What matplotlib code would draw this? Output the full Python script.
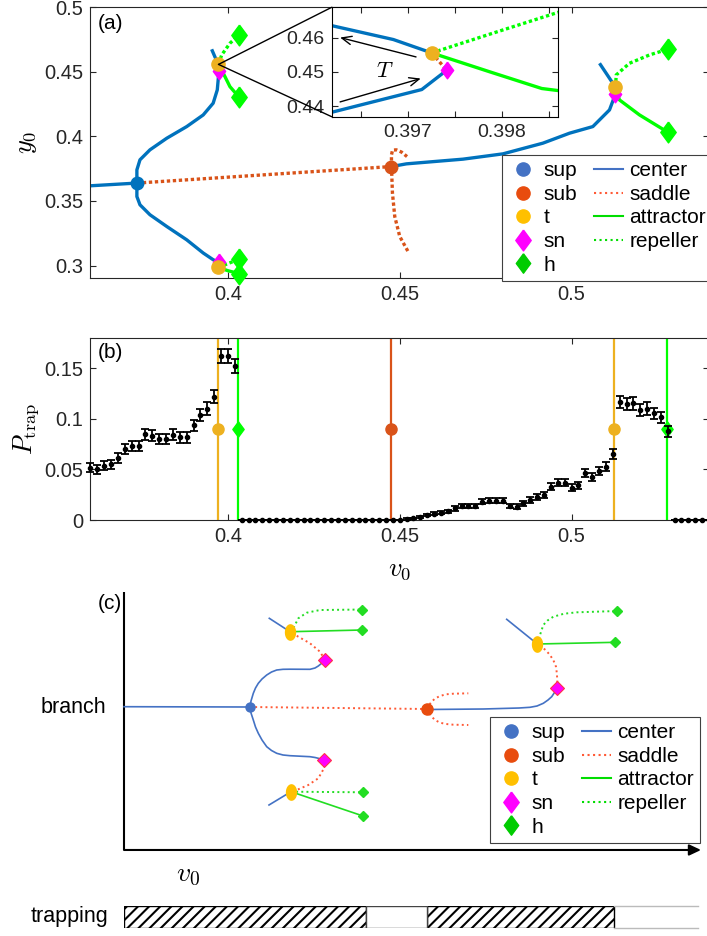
import numpy as np
import matplotlib
matplotlib.use('Agg')
import matplotlib.pyplot as plt
from matplotlib.lines import Line2D
from matplotlib.patches import ConnectionPatch

plt.rcParams['font.family'] = ['Liberation Sans', 'DejaVu Sans']
plt.rcParams['mathtext.fontset'] = 'cm'
plt.rcParams['font.size'] = 14.5
plt.rcParams['axes.linewidth'] = 0.8
plt.rcParams['axes.edgecolor'] = '#262626'
plt.rcParams['xtick.color'] = '#262626'
plt.rcParams['ytick.color'] = '#262626'
plt.rcParams['xtick.direction'] = 'in'
plt.rcParams['ytick.direction'] = 'in'
plt.rcParams['xtick.top'] = True
plt.rcParams['ytick.right'] = True
plt.rcParams['xtick.major.size'] = 4.5
plt.rcParams['ytick.major.size'] = 4.5
plt.rcParams['hatch.linewidth'] = 1.5

# ---------------- panel (a): bifurcation diagram ----------------
center_left_v = [0.36, 0.3735]
center_left_y = [0.3617, 0.3638]
sup_v, sup_y = 0.3735, 0.3638

upper_branch_v = [0.3735, 0.3735, 0.3744, 0.3773, 0.3822, 0.3880, 0.3928, 0.3957, 0.3969, 0.3972, 0.3974]
upper_branch_y = [0.3638, 0.3740, 0.3818, 0.3895, 0.3985, 0.4075, 0.4165, 0.4256, 0.4359, 0.4449, 0.4505]
upper_top_v = [0.39725, 0.39622, 0.39526]
upper_top_y = [0.4556, 0.4614, 0.4673]
upper_t = (0.39725, 0.4556)
upper_sn = (0.39741, 0.4505)
upper_rep_v = [0.39725, 0.39818, 0.40058, 0.40311]
upper_rep_y = [0.4556, 0.46291, 0.47195, 0.47813]
upper_att_v = [0.39725, 0.39817, 0.40058, 0.40311]
upper_att_y = [0.4556, 0.45131, 0.43841, 0.43068]

lower_branch_v = [0.3735, 0.3735, 0.3744, 0.3773, 0.3822, 0.3880, 0.3928, 0.3957, 0.3973]
lower_branch_y = [0.3638, 0.3534, 0.3470, 0.3393, 0.3302, 0.3199, 0.3097, 0.3045, 0.3025]
lower_bottom_v = [0.3972, 0.3957]
lower_bottom_y = [0.2985, 0.2962]
lower_t = (0.3972, 0.2985)
lower_sn = (0.3973, 0.3025)
lower_rep_v = [0.3972, 0.4000, 0.4033]
lower_rep_y = [0.2985, 0.3015, 0.3050]
lower_att_v = [0.3972, 0.4000, 0.4033]
lower_att_y = [0.2985, 0.2960, 0.2937]

saddle_v = [0.3735, 0.44759]
saddle_y = [0.3638, 0.37658]
sub_v, sub_y = 0.44759, 0.37658
sub_up_v = [0.44759, 0.44759, 0.44790, 0.44904, 0.45050, 0.45212]
sub_up_y = [0.37658, 0.3855, 0.3893, 0.3895, 0.3878, 0.3843]
sub_down_v = [0.44759, 0.44788, 0.44855, 0.45000, 0.45241]
sub_down_y = [0.37658, 0.35602, 0.33795, 0.32249, 0.3109]

right_branch_v = [0.44759, 0.45195, 0.4684, 0.48003, 0.49166, 0.49942, 0.5062, 0.51105, 0.5125, 0.51279]
right_branch_y = [0.37658, 0.37867, 0.3823, 0.3864, 0.39467, 0.4024, 0.4075, 0.4204, 0.4307, 0.43277]
right_top_v = [0.51279, 0.51008, 0.50814]
right_top_y = [0.43794, 0.44876, 0.45649]
right_t = (0.51279, 0.43794)
right_sn = (0.51279, 0.43277)
right_rep_v = [0.51279, 0.5130, 0.51686, 0.52267, 0.528]
right_rep_y = [0.43794, 0.44745, 0.45649, 0.46291, 0.46731]
right_att_v = [0.51279, 0.51395, 0.51977, 0.528]
right_att_y = [0.43794, 0.42813, 0.41654, 0.40317]

h_v = [0.40311, 0.40311, 0.4033, 0.4033, 0.528, 0.528]
h_y = [0.47813, 0.43068, 0.3050, 0.2937, 0.46731, 0.40317]

# inset (zoom near the upper turning point)
ins_upper_v = [0.39610, 0.396847, 0.397255]
ins_upper_y = [0.4641, 0.45947, 0.45556]
ins_lower_v = [0.39610, 0.397149, 0.397415]
ins_lower_y = [0.43757, 0.44485, 0.4505]
ins_att_v = [0.397255, 0.397876, 0.398426, 0.398700]
ins_att_y = [0.45556, 0.4500, 0.44515, 0.44420]
ins_rep_v = [0.397255, 0.397947, 0.398700]
ins_rep_y = [0.45556, 0.4617, 0.46830]
ins_t = (0.397255, 0.45556)
ins_sn = (0.397415, 0.4505)

# ---------------- panel (b): trapping probability ----------------
v_trap = np.linspace(0.36, 0.54, 91)
p_trap = [0.0516, 0.0500, 0.0536, 0.0552, 0.0611, 0.0700, 0.0730, 0.0733, 0.0845, 0.0832,
          0.0802, 0.0799, 0.0841, 0.0815, 0.0815, 0.0934, 0.1039, 0.1101, 0.1216, 0.1620,
          0.1620, 0.1519,
          0, 0, 0, 0, 0, 0, 0, 0, 0, 0, 0, 0, 0, 0, 0, 0, 0, 0, 0, 0, 0, 0, 0, 0,
          0.0010, 0.0017, 0.0033, 0.0049, 0.0062, 0.0072, 0.0086, 0.0115, 0.0138, 0.0138,
          0.0138, 0.0181, 0.0191, 0.0191, 0.0191, 0.0138, 0.0132, 0.0164, 0.0197, 0.0230,
          0.0247, 0.0329, 0.0368, 0.0368, 0.0319, 0.0345, 0.0460, 0.0427, 0.0486, 0.0526,
          0.0651, 0.1167, 0.1144, 0.1151, 0.1085, 0.1101, 0.1052, 0.1013, 0.0878,
          0, 0, 0, 0, 0, 0]
p_err = [0.0043, 0.0042, 0.0043, 0.0044, 0.0046, 0.0049, 0.0050, 0.0050, 0.0054, 0.0053,
         0.0052, 0.0052, 0.0053, 0.0053, 0.0053, 0.0056, 0.0059, 0.0060, 0.0063, 0.0071,
         0.0071, 0.0069,
         0, 0, 0, 0, 0, 0, 0, 0, 0, 0, 0, 0, 0, 0, 0, 0, 0, 0, 0, 0, 0, 0, 0, 0,
         0.0006, 0.0008, 0.0011, 0.0013, 0.0015, 0.0016, 0.0018, 0.0021, 0.0022, 0.0022,
         0.0022, 0.0026, 0.0026, 0.0026, 0.0026, 0.0022, 0.0022, 0.0024, 0.0027, 0.0029,
         0.0030, 0.0034, 0.0036, 0.0036, 0.0034, 0.0035, 0.0040, 0.0039, 0.0041, 0.0043,
         0.0047, 0.0062, 0.0061, 0.0061, 0.0060, 0.0060, 0.0059, 0.0058, 0.0054,
         0, 0, 0, 0, 0, 0]
bif_v = [0.3972, 0.4028, 0.4476, 0.5123, 0.5278]
bif_kind = ['t', 'h', 'sub', 't', 'h']
bif_mark_y = 0.09

# ---------------- panel (c): schematic (arbitrary units) ----------------
sch_center_x = [0, 126]
sch_center_y = [143.3, 143]
sch_sup = (126, 143)
sch_sub = (303.3, 141)
sch_up_x = [126, 127, 129.3, 131.5, 134.3, 138, 142.7, 147.5, 152.7, 159, 166, 186, 191, 194.3, 198, 201]
sch_up_y = [143, 149, 156.7, 162, 166.7, 171, 175, 178, 180, 180.7, 180.8, 180.7, 182, 184, 187, 190]
sch_lo_x = [126, 127, 129.3, 131.5, 134.3, 138, 142.7, 147.5, 152.7, 159, 166, 186, 191, 194.3, 198, 200]
sch_lo_y = [143, 137, 130, 123, 116.7, 110, 103.3, 99.5, 96.7, 95, 94.3, 93.3, 92.5, 91.7, 90.5, 90]
sch_up_sad_x = [201, 196, 186, 174.3, 166]
sch_up_sad_y = [190, 198.3, 206.7, 213.3, 218.3]
sch_up_cen_x = [145.3, 166]
sch_up_cen_y = [231.7, 218.3]
sch_up_att_x = [166, 237.7]
sch_up_att_y = [218.3, 220]
sch_up_rep_x = [166, 169.3, 174.3, 182.7, 196, 237.7]
sch_up_rep_y = [218.3, 221.7, 231.7, 237.3, 240, 240.5]
sch_lo_sad_x = [200, 200, 194.3, 184.3, 174.3, 167]
sch_lo_sad_y = [90, 81.7, 71.7, 65, 60.7, 58.3]
sch_lo_cen_x = [145, 167]
sch_lo_cen_y = [45, 58.3]
sch_lo_rep_x = [167, 239]
sch_lo_rep_y = [58.3, 57.7]
sch_lo_att_x = [167, 239]
sch_lo_att_y = [58.3, 34]
sch_saddle_x = [126, 303.3]
sch_saddle_y = [143, 141]
sch_hook_up_x = [303.3, 305, 307.7, 311, 316, 322, 329.3, 344.3]
sch_hook_up_y = [141, 145, 148.3, 151.5, 154, 155.7, 156.3, 156.7]
sch_hook_lo_x = [303.3, 305, 307.7, 311, 316, 322, 329.3, 344.3]
sch_hook_lo_y = [141, 137, 133.3, 130, 127.3, 126, 125.3, 125]
sch_right_x = [303.3, 359.3, 395, 406, 413, 419.3, 424, 427.7, 430.5, 433.3]
sch_right_y = [140.5, 141, 142, 142.7, 144, 146.7, 150, 153.3, 157.5, 162.3]
sch_r_sad_x = [433.3, 433.3, 432.8, 432, 429.5, 426, 422, 417.7, 413.3]
sch_r_sad_y = [162.3, 170, 177, 183.3, 189.5, 195, 199.5, 203.3, 206]
sch_r_cen_x = [382.7, 413.3]
sch_r_cen_y = [230.7, 206]
sch_r_att_x = [413.3, 491]
sch_r_att_y = [206, 207.7]
sch_r_rep_x = [413.3, 416, 419.3, 423.5, 429.3, 440, 452.7, 492.7]
sch_r_rep_y = [206, 215, 225, 229.5, 233.3, 236.3, 237.7, 239]
sch_t_x = [166, 167, 413.3]
sch_t_y = [218.3, 58.3, 206]
sch_sn_x = [201, 200, 433.3]
sch_sn_y = [190, 90, 162.3]
sch_h_x = [237.7, 237.7, 239, 239, 492.7, 491]
sch_h_y = [240.5, 220, 57.7, 34, 239, 207.7]
trap_left = [0, 302.7]
trap_width = [241.7, 187.3]
gap_left, gap_width = 241.7, 61
tail_start, tail_end = 490, 574

# colours
BLUE, RED, ORANGE, MAG, GREEN = '#0072BD', '#D95319', '#EDB120', '#FF00FF', '#00FF00'
S_BLUE, S_RED, S_SUB, S_T, S_GREEN = '#4472C4', '#FF5A36', '#E84C0E', '#FFC000', '#22DD22'

TALL_D = [(0, 1), (0.74, 0), (0, -1), (-0.74, 0), (0, 1)]
theta = np.linspace(0, 2 * np.pi, 41)
ELLIPSE = list(zip(0.65 * np.cos(theta), np.sin(theta)))
DOT = (0, (1.0, 0.8))
LW = 2.4

fig = plt.figure(figsize=(7.07, 9.36), dpi=100)


def branch_legend(ax, anchor, transform):
    handles = [
        Line2D([], [], ls='none', marker='o', ms=9.5, color=S_BLUE),
        Line2D([], [], ls='none', marker='o', ms=9.5, color=S_SUB),
        Line2D([], [], ls='none', marker='o', ms=9.5, color=S_T),
        Line2D([], [], ls='none', marker=TALL_D, ms=15, color=MAG),
        Line2D([], [], ls='none', marker=TALL_D, ms=14, color='#00CC00'),
        Line2D([], [], color=S_BLUE, lw=1.5),
        Line2D([], [], color=S_RED, lw=1.5, ls=':'),
        Line2D([], [], color='#00DD00', lw=1.5),
        Line2D([], [], color='#00DD00', lw=1.5, ls=':'),
    ]
    labels = ['sup', 'sub', 't', 'sn', 'h', 'center', 'saddle', 'attractor', 'repeller']
    leg = ax.legend(handles, labels, ncol=2, loc='upper left', bbox_to_anchor=anchor,
                    bbox_transform=transform, fontsize=15, frameon=True, fancybox=False,
                    edgecolor='#404040', framealpha=1, borderpad=0.3, labelspacing=0.22,
                    handlelength=1.4, handletextpad=0.3, columnspacing=0.8, borderaxespad=0)
    leg.get_frame().set_linewidth(0.8)
    leg.set_zorder(10)
    return leg


# ---- (a) ----
ax_a = fig.add_axes([0.128, 0.7025, 0.8748, 0.29])
for vv, yy in [(center_left_v, center_left_y), (upper_branch_v, upper_branch_y),
               (upper_top_v, upper_top_y), (lower_branch_v, lower_branch_y),
               (lower_bottom_v, lower_bottom_y), (right_branch_v, right_branch_y),
               (right_top_v, right_top_y)]:
    ax_a.plot(vv, yy, color=BLUE, lw=LW, solid_capstyle='butt')
for vv, yy in [(saddle_v, saddle_y), (sub_up_v, sub_up_y), (sub_down_v, sub_down_y),
               ([upper_t[0], upper_sn[0]], [upper_t[1], upper_sn[1]]),
               ([lower_t[0], lower_sn[0]], [lower_t[1], lower_sn[1]]),
               ([right_t[0], right_sn[0]], [right_t[1], right_sn[1]])]:
    ax_a.plot(vv, yy, color=RED, lw=LW, ls=DOT)
for vv, yy in [(upper_att_v, upper_att_y), (lower_att_v, lower_att_y), (right_att_v, right_att_y)]:
    ax_a.plot(vv, yy, color=GREEN, lw=LW)
for vv, yy in [(upper_rep_v, upper_rep_y), (lower_rep_v, lower_rep_y), (right_rep_v, right_rep_y)]:
    ax_a.plot(vv, yy, color=GREEN, lw=LW, ls=DOT)
ax_a.plot(h_v, h_y, ls='none', marker=TALL_D, ms=15, color=GREEN, zorder=4, clip_on=False)
ax_a.plot([upper_sn[0], lower_sn[0], right_sn[0]], [upper_sn[1], lower_sn[1], right_sn[1]],
          ls='none', marker=TALL_D, ms=12, color=MAG, zorder=4)
ax_a.plot([upper_t[0], lower_t[0], right_t[0]], [upper_t[1], lower_t[1], right_t[1]],
          ls='none', marker='o', ms=9.5, color=ORANGE, zorder=5, clip_on=False)
ax_a.plot([sup_v], [sup_y], ls='none', marker='o', ms=9, color=BLUE, zorder=5)
ax_a.plot([sub_v], [sub_y], ls='none', marker='o', ms=9, color=RED, zorder=5)
ax_a.set_xlim(0.36, 0.54)
ax_a.set_ylim(0.29, 0.5)
ax_a.set_xticks([0.4, 0.45, 0.5])
ax_a.set_xticklabels(['0.4', '0.45', '0.5'])
ax_a.set_yticks([0.3, 0.35, 0.4, 0.45, 0.5])
ax_a.set_yticklabels(['0.3', '0.35', '0.4', '0.45', '0.5'])
ax_a.tick_params(axis='both', labelsize=14.5, pad=5, labelcolor='#262626')
ax_a.set_ylabel('$y_0$', fontsize=19, va='center')
ax_a.yaxis.set_label_coords(-0.103, 0.5)
ax_a.text(0.012, 0.94, '(a)', transform=ax_a.transAxes, fontsize=15, va='center')
branch_legend(ax_a, (0.6653, 0.4549), ax_a.transAxes)

# inset
axin = fig.add_axes([0.4692, 0.8753, 0.3205, 0.1169])
axin.plot(ins_upper_v, ins_upper_y, color=BLUE, lw=LW)
axin.plot(ins_lower_v, ins_lower_y, color=BLUE, lw=LW)
axin.plot(ins_att_v, ins_att_y, color=GREEN, lw=LW)
axin.plot(ins_rep_v, ins_rep_y, color=GREEN, lw=LW, ls=DOT)
axin.plot([ins_t[0], ins_sn[0]], [ins_t[1], ins_sn[1]], color=RED, lw=LW, ls=DOT)
axin.plot([ins_sn[0]], [ins_sn[1]], ls='none', marker=TALL_D, ms=12, color=MAG, zorder=4)
axin.plot([ins_t[0]], [ins_t[1]], ls='none', marker='o', ms=9.5, color=ORANGE, zorder=5)
axin.annotate('', xy=(0.396280, 0.460058), xytext=(0.397088, 0.454386),
              arrowprops=dict(arrowstyle='->,head_length=0.7,head_width=0.3', color='k', lw=1,
                              shrinkA=0, shrinkB=0, mutation_scale=10))
axin.annotate('', xy=(0.397138, 0.448070), xytext=(0.396280, 0.441228),
              arrowprops=dict(arrowstyle='->,head_length=0.7,head_width=0.3', color='k', lw=1,
                              shrinkA=0, shrinkB=0, mutation_scale=10))
axin.text(0.396759, 0.4500, '$T$', fontsize=16, ha='center', va='center')
axin.set_xlim(0.396191, 0.398602)
axin.set_ylim(0.4369, 0.4689)
axin.set_xticks([0.3965, 0.397, 0.3975, 0.398, 0.3985])
axin.set_xticklabels(['', '0.397', '', '0.398', ''])
axin.set_yticks([0.44, 0.45, 0.46])
axin.set_yticklabels(['0.44', '0.45', '0.46'])
axin.tick_params(axis='both', labelsize=14, pad=5, length=4, labelcolor='#262626')
for s in axin.spines.values():
    s.set_color('k')
for corner in [(0, 1), (0, 0)]:
    con = ConnectionPatch(xyA=corner, coordsA=axin.transAxes, xyB=upper_t, coordsB=ax_a.transData,
                          color='k', lw=1)
    fig.add_artist(con)

# ---- (b) ----
ax_b = fig.add_axes([0.128, 0.4444, 0.8748, 0.1948])
kind_style = {'t': (ORANGE, 'o', 8), 'h': (GREEN, TALL_D, 11), 'sub': (RED, 'o', 8)}
for vb, kb in zip(bif_v, bif_kind):
    col, mk, ms = kind_style[kb]
    ax_b.axvline(vb, color=col, lw=1.6, zorder=1)
    ax_b.plot([vb], [bif_mark_y], ls='none', marker=mk, ms=ms, color=col, zorder=2)
ax_b.errorbar(v_trap, p_trap, yerr=p_err, fmt='o', color='k', ms=3, capsize=3,
              elinewidth=1.3, capthick=1.3, zorder=3, clip_on=False)
ax_b.set_xlim(0.36, 0.54)
ax_b.set_ylim(0, 0.18)
ax_b.set_xticks([0.4, 0.45, 0.5])
ax_b.set_xticklabels(['0.4', '0.45', '0.5'])
ax_b.set_yticks([0, 0.05, 0.1, 0.15])
ax_b.set_yticklabels(['0', '0.05', '0.1', '0.15'])
ax_b.tick_params(axis='both', labelsize=14.5, pad=5, labelcolor='#262626')
ax_b.set_ylabel('$P_{\\mathrm{trap}}$', fontsize=19, va='center')
ax_b.yaxis.set_label_coords(-0.104, 0.5)
ax_b.set_xlabel('$v_0$', fontsize=19, va='center')
ax_b.xaxis.set_label_coords(0.5, -0.275)
ax_b.text(0.012, 0.92, '(b)', transform=ax_b.transAxes, fontsize=15, va='center')

# ---- (c) ----
ax_c = fig.add_axes([0.1754, 0.0919, 0.8246, 0.2756])
ax_c.set_xlim(0, 583)
ax_c.set_ylim(0, 258)
ax_c.axis('off')
ax_c.plot([0, 0], [0, 258], color='k', lw=1.5, solid_capstyle='butt', clip_on=False)
ax_c.annotate('', xy=(577, 0), xytext=(0, 0), annotation_clip=False,
              arrowprops=dict(arrowstyle='-|>,head_length=0.7,head_width=0.33', color='k', lw=1.5,
                              shrinkA=0, shrinkB=0, mutation_scale=10))
slw = 1.2
for xx, yy in [(sch_center_x, sch_center_y), (sch_up_x, sch_up_y), (sch_lo_x, sch_lo_y),
               (sch_up_cen_x, sch_up_cen_y), (sch_lo_cen_x, sch_lo_cen_y),
               (sch_right_x, sch_right_y), (sch_r_cen_x, sch_r_cen_y)]:
    ax_c.plot(xx, yy, color=S_BLUE, lw=slw, clip_on=False)
for xx, yy in [(sch_saddle_x, sch_saddle_y), (sch_hook_up_x, sch_hook_up_y),
               (sch_hook_lo_x, sch_hook_lo_y), (sch_up_sad_x, sch_up_sad_y),
               (sch_lo_sad_x, sch_lo_sad_y), (sch_r_sad_x, sch_r_sad_y)]:
    ax_c.plot(xx, yy, color=S_RED, lw=1.4, ls=':', clip_on=False)
for xx, yy in [(sch_up_att_x, sch_up_att_y), (sch_lo_att_x, sch_lo_att_y), (sch_r_att_x, sch_r_att_y)]:
    ax_c.plot(xx, yy, color=S_GREEN, lw=slw, clip_on=False)
for xx, yy in [(sch_up_rep_x, sch_up_rep_y), (sch_lo_rep_x, sch_lo_rep_y), (sch_r_rep_x, sch_r_rep_y)]:
    ax_c.plot(xx, yy, color=S_GREEN, lw=1.4, ls=':', clip_on=False)
ax_c.plot(sch_h_x, sch_h_y, ls='none', marker='D', ms=5.5, color=S_GREEN, zorder=4, clip_on=False)
ax_c.plot(sch_sn_x, sch_sn_y, ls='none', marker='D', ms=7.5, mfc=MAG, mec='#FF3344', mew=0.8,
          zorder=4, clip_on=False)
ax_c.plot(sch_t_x, sch_t_y, ls='none', marker=ELLIPSE, ms=11, color=S_T, zorder=5, clip_on=False)
ax_c.plot([sch_sup[0]], [sch_sup[1]], ls='none', marker='o', ms=6.5, color=S_BLUE, zorder=5)
ax_c.plot([sch_sub[0]], [sch_sub[1]], ls='none', marker='o', ms=8, color=S_SUB, zorder=5)
ax_c.text(-18, 143, 'branch', fontsize=15.5, ha='right', va='center')
ax_c.text(-2, 247, '(c)', fontsize=15, ha='right', va='center')
ax_c.text(64, -25, '$v_0$', fontsize=20, ha='center', va='center')
branch_legend(ax_c, (366, 133), ax_c.transData)

# trapping bar
ax_t = fig.add_axes([0.1754, 0.00855, 0.8246, 0.0235])
ax_t.set_xlim(0, 583)
ax_t.set_ylim(0, 1)
ax_t.axis('off')
ax_t.barh([0.5] * len(trap_left), trap_width, left=trap_left, height=1, color='white',
          edgecolor='k', hatch='///', lw=1.0)
ax_t.barh([0.5], [gap_width], left=[gap_left], height=1, color='white', edgecolor='#444444', lw=1.0)
ax_t.plot([tail_start, tail_end], [1, 1], color='#BBBBBB', lw=1.0, clip_on=False)
ax_t.plot([tail_start, tail_end], [0, 0], color='#BBBBBB', lw=1.0, clip_on=False)
ax_t.text(-16, 0.5, 'trapping', fontsize=15.5, ha='right', va='center')

fig.savefig('out.png', dpi=100)
